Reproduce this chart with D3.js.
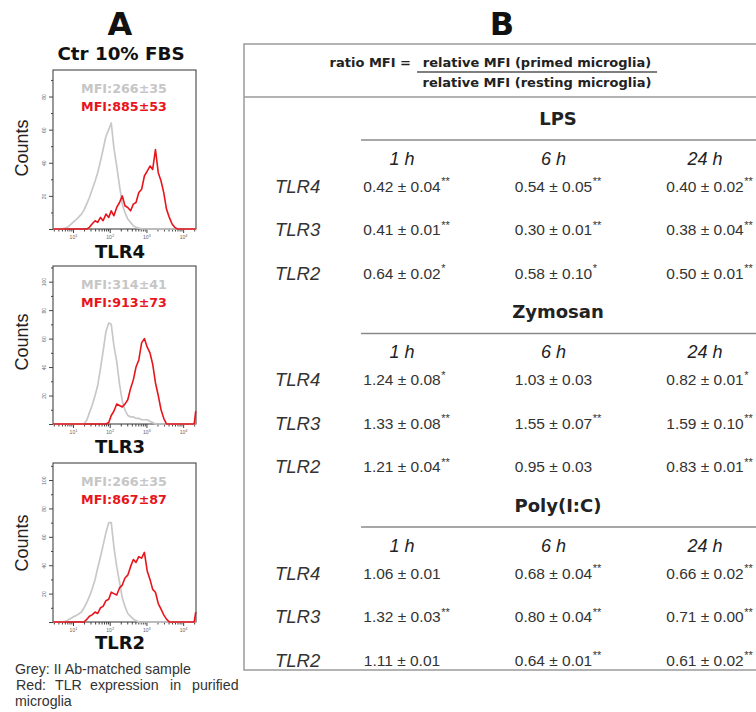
<!DOCTYPE html>
<html>
<head>
<meta charset="utf-8">
<script src="https://cdn.jsdelivr.net/npm/d3@7"></script>
<style>
  body { margin: 0; background: #fff; }
  svg { display: block; }
</style>
</head>
<body>
<svg id="chart" width="756" height="712"></svg>
<script>
// ---- Panel A: flow cytometry histograms ----
// fluorescence channels (log axis), shared by every curve
const channels = [3, 4, 5, 6, 7, 8, 10, 12, 14, 17, 20, 24, 28, 33, 40, 47, 56, 66, 79, 94,
  110, 130, 155, 185, 220, 260, 310, 370, 440, 520, 620, 740, 880, 1050, 1250, 1480, 1760,
  2100, 2500, 2960, 3520, 4200, 5000, 5900, 7000, 8400, 10000, 11900, 14100, 16800, 20000, 22000];

// grey = II Ab-matched sample, red = TLR expression
const greyTLR4 = [0, 0, 0, 0.5, 1, 2, 4, 5.5, 7, 9, 11.5, 15.5, 19, 23.5, 29, 34, 41, 48, 56, 60,
  64, 49, 38, 26, 15, 10, 6, 4, 2, 1, 0.5, 0, 0, 0, 0, 0, 0, 0, 0, 0, 0, 0, 0, 0, 0, 0, 0, 0, 0, 0, 0, 0];
const redTLR4 = [0, 0, 0, 0, 0, 0, 0, 0, 0, 0, 0, 0, 1, 3, 5, 4, 7, 5, 9, 7,
  11, 8, 13, 16, 20, 14, 13, 11, 15, 16, 22, 24, 32, 35, 38, 36, 48, 34, 29, 22, 12, 7, 3, 1, 0, 0, 0, 0, 0, 0, 0, 0];
const greyTLR3 = [0, 0, 0, 0, 0, 0, 0, 0, 0, 0, 0, 3, 8, 13, 20, 27, 39, 51, 65, 71,
  70, 55, 44, 28, 16, 10, 6, 5, 5, 4, 4, 3, 3, 3, 2, 1, 0, 0, 0, 0, 0, 0, 0, 0, 0, 0, 0, 0, 0, 0, 0, 0];
const redTLR3 = [0, 0, 0, 0, 0, 0, 0, 0, 0, 0, 0, 0, 0, 0, 0, 0, 0, 0, 0, 1,
  6, 9, 14, 13, 12, 14, 17, 25, 31, 40, 45, 57, 60, 54, 50, 42, 29, 20, 10, 4, 0, 0, 0, 0, 0, 0, 0, 0, 0, 0, 0, 9];
const greyTLR2 = [0, 0, 0, 0.5, 1, 2, 3.5, 4.5, 5.5, 7, 10, 14, 18, 23, 30, 38, 46, 54, 63, 70,
  70, 53, 39, 28, 17, 11, 6, 4, 2, 1, 0, 0, 0, 0, 0, 0, 0, 0, 0, 0, 0, 0, 0, 0, 0, 0, 0, 0, 0, 0, 0, 0];
const redTLR2 = [0, 0, 0, 0, 0, 0, 0, 0, 0, 0, 0, 2, 4, 5, 7, 6, 10, 11, 15, 16,
  21, 20, 19, 24, 26, 31, 33, 39, 44, 42, 46, 45, 49, 36, 30, 23, 21, 13, 9, 5, 2, 0, 0, 0, 0, 0, 0, 0, 0, 0, 0, 7];

const histNames = ["TLR4", "TLR3", "TLR2"];
const greySeries = [greyTLR4, greyTLR3, greyTLR2];
const redSeries = [redTLR4, redTLR3, redTLR2];
const mfiGrey = ["MFI:266±35", "MFI:314±41", "MFI:266±35"];
const mfiRed = ["MFI:885±53", "MFI:913±73", "MFI:867±87"];
const countMax = [96, 111, 112];
const decadeTicks = [10, 100, 1000, 10000];

// ---- Panel B: ratio MFI table ----
const treatments = ["LPS", "Zymosan", "Poly(I:C)"];
const times = ["1 h", "6 h", "24 h"];
const receptors = ["TLR4", "TLR3", "TLR2"];

const lpsMean = [[0.42, 0.54, 0.40], [0.41, 0.30, 0.38], [0.64, 0.58, 0.50]];
const lpsSem = [[0.04, 0.05, 0.02], [0.01, 0.01, 0.04], [0.02, 0.10, 0.01]];
const lpsSig = [["**", "**", "**"], ["**", "**", "**"], ["*", "*", "**"]];

const zymMean = [[1.24, 1.03, 0.82], [1.33, 1.55, 1.59], [1.21, 0.95, 0.83]];
const zymSem = [[0.08, 0.03, 0.01], [0.08, 0.07, 0.10], [0.04, 0.03, 0.01]];
const zymSig = [["*", "", "*"], ["**", "**", "**"], ["**", "", "**"]];

const polyMean = [[1.06, 0.68, 0.66], [1.32, 0.80, 0.71], [1.11, 0.64, 0.61]];
const polySem = [[0.01, 0.04, 0.02], [0.03, 0.04, 0.00], [0.01, 0.01, 0.02]];
const polySig = [["", "**", "**"], ["**", "**", "**"], ["", "**", "**"]];

const means = [lpsMean, zymMean, polyMean];
const sems = [lpsSem, zymSem, polySem];
const sigs = [lpsSig, zymSig, polySig];

const BOLD = "'DejaVu Sans', sans-serif";
const SANS = "'Liberation Sans', Arial, sans-serif";

const svg = d3.select("#chart");

// ================= Panel A =================
svg.append("text")
  .attr("x", 120).attr("y", 35)
  .attr("text-anchor", "middle")
  .style("font-family", BOLD).style("font-weight", "bold").style("font-size", "32px")
  .attr("fill", "#111")
  .text("A");

svg.append("text")
  .attr("x", 121).attr("y", 60)
  .attr("text-anchor", "middle")
  .style("font-family", BOLD).style("font-weight", "bold").style("font-size", "18.3px")
  .attr("fill", "#111")
  .text("Ctr 10% FBS");

var boxLeft = 53, boxRight = 196;
var boxTops = [70, 266, 463];
var boxBottoms = [229, 424, 622];
var titleBaselines = [258, 453, 649];
var countsCenters = [148, 342, 543];

var x = d3.scaleLog().domain([2.85, 22400]).range([boxLeft, boxRight]);
var minorTicks = x.ticks().filter(function(t) { return decadeTicks.indexOf(t) < 0; });

histNames.forEach(function(name, i) {
  var top = boxTops[i], bottom = boxBottoms[i];
  var y = d3.scaleLinear().domain([0, countMax[i]]).range([bottom, top]);
  var g = svg.append("g");

  // frame
  g.append("rect")
    .attr("x", boxLeft).attr("y", top)
    .attr("width", boxRight - boxLeft).attr("height", bottom - top)
    .attr("fill", "none").attr("stroke", "#333").attr("stroke-width", 1);

  // x axis: minor ticks + decade ticks
  g.append("g")
    .attr("transform", "translate(0," + bottom + ")")
    .call(d3.axisBottom(x).tickValues(minorTicks).tickSize(2.5).tickFormat(""))
    .call(function(a) { a.select(".domain").remove(); a.selectAll("line").attr("stroke", "#444"); });

  var xa = g.append("g")
    .attr("transform", "translate(0," + bottom + ")")
    .call(d3.axisBottom(x).tickValues(decadeTicks).tickSize(4).tickPadding(2).tickFormat(""));
  xa.select(".domain").remove();
  xa.selectAll("line").attr("stroke", "#444");
  xa.selectAll(".tick").append("text")
    .attr("y", 10).attr("text-anchor", "middle")
    .style("font-family", SANS).style("font-size", "5px").attr("fill", "#666")
    .text("10")
    .append("tspan").attr("dy", -2).style("font-size", "4px")
    .text(function(d) { return Math.round(Math.log10(d)); });

  // y axis
  var ya = g.append("g")
    .attr("transform", "translate(" + boxLeft + ",0)")
    .call(d3.axisLeft(y).tickValues(d3.range(10, countMax[i], 20)).tickSize(2).tickFormat(""));
  ya.select(".domain").remove();
  ya.selectAll("line").attr("stroke", "#444");

  var ya2 = g.append("g")
    .attr("transform", "translate(" + boxLeft + ",0)")
    .call(d3.axisLeft(y).tickValues(d3.range(0, countMax[i], 20)).tickSize(4).tickFormat(""));
  ya2.select(".domain").remove();
  ya2.selectAll("line").attr("stroke", "#444");
  ya2.selectAll(".tick").filter(function(d) { return d > 0; }).append("text")
    .attr("transform", "translate(-7,0) rotate(-90)")
    .attr("text-anchor", "middle")
    .style("font-family", SANS).style("font-size", "5px").attr("fill", "#666")
    .text(function(d) { return d; });

  // curves
  var line = d3.line()
    .x(function(d, k) { return x(channels[k]); })
    .y(function(d) { return y(d); });

  g.append("path")
    .datum(greySeries[i])
    .attr("d", line)
    .attr("fill", "none").attr("stroke", "#c8c8c8").attr("stroke-width", 1.7)
    .attr("stroke-linejoin", "round");

  g.append("path")
    .datum(redSeries[i])
    .attr("d", line)
    .attr("fill", "none").attr("stroke", "#e8141b").attr("stroke-width", 1.6)
    .attr("stroke-linejoin", "round");

  // MFI labels
  g.append("text")
    .attr("x", 124).attr("y", top + 23)
    .attr("text-anchor", "middle")
    .style("font-family", BOLD).style("font-weight", "bold").style("font-size", "12.7px")
    .attr("fill", "#c6c6c6")
    .text(mfiGrey[i]);
  g.append("text")
    .attr("x", 124).attr("y", top + 41)
    .attr("text-anchor", "middle")
    .style("font-family", BOLD).style("font-weight", "bold").style("font-size", "12.7px")
    .attr("fill", "#e8141b")
    .text(mfiRed[i]);

  // Counts label
  g.append("text")
    .attr("transform", "translate(28," + countsCenters[i] + ") rotate(-90)")
    .attr("text-anchor", "middle")
    .style("font-family", SANS).style("font-size", "18px")
    .attr("fill", "#222")
    .text("Counts");

  // receptor title
  g.append("text")
    .attr("x", 120).attr("y", titleBaselines[i])
    .attr("text-anchor", "middle")
    .style("font-family", BOLD).style("font-weight", "bold").style("font-size", "18px")
    .attr("fill", "#111")
    .text(name);
});

// footnote
var foot = svg.append("g")
  .style("font-family", SANS).style("font-size", "14.2px").attr("fill", "#333");
foot.append("text").attr("x", 15).attr("y", 674).text("Grey: II Ab-matched sample");
var redWords = [["Red:", 16], ["TLR", 55], ["expression", 90], ["in", 170], ["purified", 192]];
redWords.forEach(function(w) {
  foot.append("text").attr("x", w[1]).attr("y", 690).text(w[0]);
});
foot.append("text").attr("x", 15).attr("y", 706).text("microglia");

// ================= Panel B =================
svg.append("text")
  .attr("x", 502).attr("y", 35)
  .attr("text-anchor", "middle")
  .style("font-family", BOLD).style("font-weight", "bold").style("font-size", "32px")
  .attr("fill", "#111")
  .text("B");

var tableLeft = 244, tableTop = 44, tableBottom = 670;

svg.append("rect")
  .attr("x", tableLeft).attr("y", tableTop)
  .attr("width", 800 - tableLeft).attr("height", tableBottom - tableTop)
  .attr("fill", "none").attr("stroke", "#9a9a9a").attr("stroke-width", 1.5);

svg.append("line")
  .attr("x1", tableLeft).attr("x2", 800)
  .attr("y1", 97).attr("y2", 97)
  .attr("stroke", "#9a9a9a").attr("stroke-width", 1.5);

// ratio definition
var head = svg.append("g")
  .style("font-family", BOLD).style("font-weight", "bold").style("font-size", "13px")
  .attr("fill", "#222");
head.append("text").attr("x", 411).attr("y", 67).attr("text-anchor", "end").text("ratio MFI =");
head.append("text").attr("x", 537).attr("y", 67).attr("text-anchor", "middle").text("relative MFI (primed microglia)");
head.append("text").attr("x", 537).attr("y", 87).attr("text-anchor", "middle").text("relative MFI (resting microglia)");
svg.append("line")
  .attr("x1", 417).attr("x2", 657).attr("y1", 72).attr("y2", 72)
  .attr("stroke", "#555").attr("stroke-width", 1.3);

var col = d3.scalePoint().domain(times).range([402, 705]);
var sectionY = d3.scalePoint().domain(treatments).range([118, 505]);
var rowOffset = d3.scalePoint().domain(receptors).range([68, 155]);

treatments.forEach(function(tr, s) {
  var h = sectionY(tr);
  var sec = svg.append("g");

  sec.append("text")
    .attr("x", 558).attr("y", h + 6.5)
    .attr("text-anchor", "middle")
    .style("font-family", BOLD).style("font-weight", "bold").style("font-size", "18px")
    .attr("fill", "#222")
    .text(tr);

  sec.append("line")
    .attr("x1", 361).attr("x2", 800)
    .attr("y1", h + 22).attr("y2", h + 22)
    .attr("stroke", "#8a8a8a").attr("stroke-width", 1.6);

  sec.selectAll(".hour")
    .data(times)
    .enter().append("text")
    .attr("class", "hour")
    .attr("x", function(d) { return col(d); })
    .attr("y", h + 40 + 6.5)
    .attr("text-anchor", "middle")
    .style("font-family", SANS).style("font-style", "italic").style("font-size", "18px")
    .attr("fill", "#222")
    .text(function(d) { return d; });

  receptors.forEach(function(rc, r) {
    var cy = h + rowOffset(rc);
    sec.append("text")
      .attr("x", 275).attr("y", cy + 6.5)
      .style("font-family", SANS).style("font-style", "italic").style("font-size", "18.5px")
      .attr("fill", "#333")
      .text(rc);

    times.forEach(function(t, c) {
      var cx = col(t);
      var v = sec.append("text")
        .attr("x", cx).attr("y", cy + 5.5)
        .attr("text-anchor", "middle")
        .style("font-family", SANS).style("font-size", "15.5px")
        .attr("fill", "#333")
        .text(means[s][r][c].toFixed(2) + " ± " + sems[s][r][c].toFixed(2));
      var star = sigs[s][r][c];
      if (star) {
        var w = v.node().getComputedTextLength();
        sec.append("text")
          .attr("x", cx + w / 2 + 0.5).attr("y", cy - 1)
          .style("font-family", SANS).style("font-size", "11px")
          .attr("fill", "#333")
          .text(star);
      }
    });
  });
});
</script>
</body>
</html>
